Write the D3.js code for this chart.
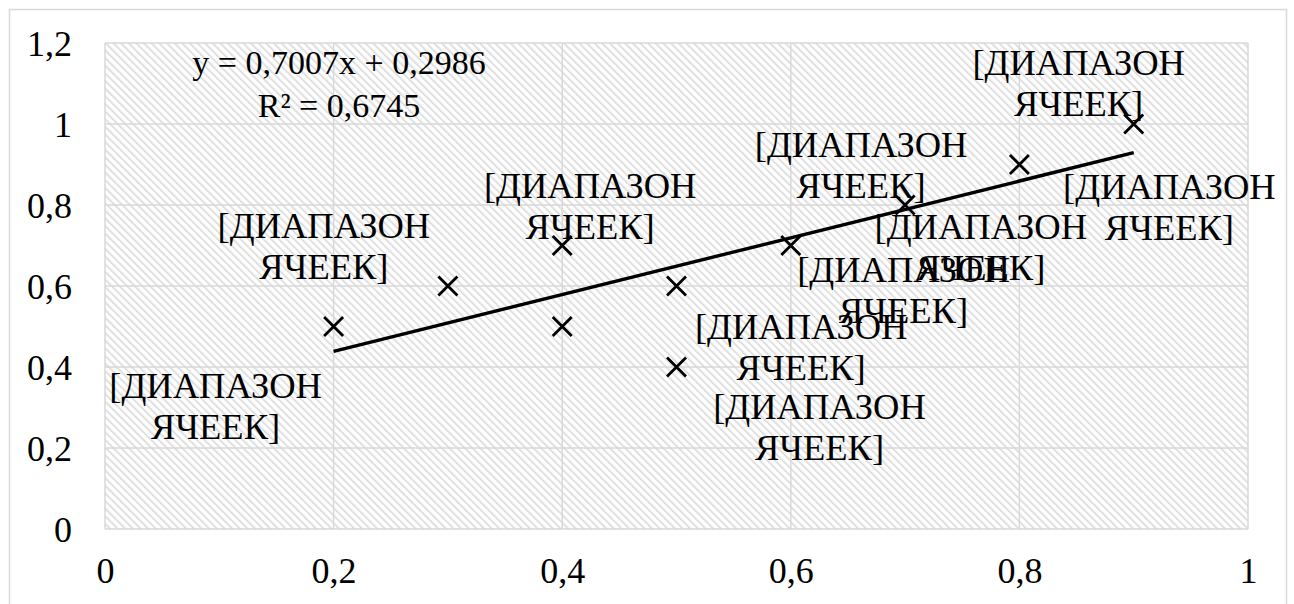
<!DOCTYPE html>
<html>
<head>
<meta charset="utf-8">
<script src="https://cdn.jsdelivr.net/npm/d3@7"></script>
<style>
  html, body { margin: 0; padding: 0; background: #ffffff; }
  svg { display: block; }
  text { font-family: "Liberation Serif", "Times New Roman", serif; fill: #000; }
</style>
</head>
<body>
<svg id="chart" width="1294" height="604"></svg>
<script>
// Observations
const xValues = [0.2, 0.3, 0.4, 0.4, 0.5, 0.5, 0.6, 0.7, 0.8, 0.9];
const yValues = [0.5, 0.6, 0.7, 0.5, 0.6, 0.4, 0.7, 0.8, 0.9, 1.0];
const pointLabels = xValues.map(() => ["[ДИАПАЗОН", "ЯЧЕЕК]"]);

// Axis ticks
const xTicks = [0, 0.2, 0.4, 0.6, 0.8, 1];
const yTicks = [0, 0.2, 0.4, 0.6, 0.8, 1, 1.2];

// Where each data label sits relative to its marker (px: centre x, first baseline)
const labelOffsets = [
  [-118, 71], [-124, -48], [28, -48], [239, 12], [227, -4],
  [143, 52], [190, -7], [-44, -48], [150, 34], [-55, -49]
];

const plot = { left: 105, right: 1248, top: 43, bottom: 529 };
const tickFont = 36;
const labelFont = 36.5;
const eqFont = 34;
const grid = "#d9d9d9";

const svg = d3.select("#chart");

// Hatched fill for the plot area
const defs = svg.append("defs");
const pat = defs.append("pattern")
  .attr("id", "hatch")
  .attr("patternUnits", "userSpaceOnUse")
  .attr("width", 5.4).attr("height", 10)
  .attr("patternTransform", "rotate(-45)");
pat.append("rect").attr("width", 5.4).attr("height", 10).attr("fill", "#ffffff");
pat.append("rect").attr("width", 2).attr("height", 10).attr("fill", "#e0e0e0");

// Chart frame
svg.append("rect")
  .attr("x", 9.5).attr("y", 9.5).attr("width", 1277).attr("height", 620)
  .attr("fill", "#ffffff").attr("stroke", grid).attr("stroke-width", 1.5);

const x = d3.scaleLinear().domain([0, 1]).range([plot.left, plot.right]);
const y = d3.scaleLinear().domain([0, 1.2]).range([plot.bottom, plot.top]);

svg.append("rect")
  .attr("x", plot.left).attr("y", plot.top)
  .attr("width", plot.right - plot.left).attr("height", plot.bottom - plot.top)
  .attr("fill", "url(#hatch)");

const fmt = v => String(v).replace(".", ",");

// Gridlines
svg.append("g").selectAll("line").data(xTicks).join("line")
  .attr("x1", d => x(d)).attr("x2", d => x(d))
  .attr("y1", plot.top).attr("y2", plot.bottom)
  .attr("stroke", grid).attr("stroke-width", 1.5);
svg.append("g").selectAll("line").data(yTicks).join("line")
  .attr("x1", plot.left).attr("x2", plot.right)
  .attr("y1", d => y(d)).attr("y2", d => y(d))
  .attr("stroke", grid).attr("stroke-width", 1.5);

// Axes (labels only)
const xAxis = svg.append("g")
  .attr("transform", `translate(0,${plot.bottom})`)
  .call(d3.axisBottom(x).tickValues(xTicks).tickFormat(fmt).tickSize(0).tickPadding(42));
const yAxis = svg.append("g")
  .attr("transform", `translate(${plot.left},0)`)
  .call(d3.axisLeft(y).tickValues(yTicks).tickFormat(fmt).tickSize(0).tickPadding(33));
[xAxis, yAxis].forEach(g => {
  g.select(".domain").remove();
  g.attr("font-family", null).attr("font-size", null);
  g.selectAll("text")
    .attr("font-size", tickFont).attr("fill", "#000");
});
yAxis.selectAll("text").attr("dy", "0.34em");
xAxis.selectAll("text").attr("dy", "0.34em");

// Linear trend (least squares)
const n = xValues.length;
const mx = d3.mean(xValues), my = d3.mean(yValues);
let sxy = 0, sxx = 0, syy = 0;
for (let i = 0; i < n; i++) {
  sxy += (xValues[i] - mx) * (yValues[i] - my);
  sxx += (xValues[i] - mx) ** 2;
  syy += (yValues[i] - my) ** 2;
}
const slope = sxy / sxx;
const intercept = my - slope * mx;
const r2 = (sxy * sxy) / (sxx * syy);
const [x0, x1] = d3.extent(xValues);

svg.append("line")
  .attr("x1", x(x0)).attr("y1", y(intercept + slope * x0))
  .attr("x2", x(x1)).attr("y2", y(intercept + slope * x1))
  .attr("stroke", "#000").attr("stroke-width", 3.4);

// Markers
const m = 9.5;
const pts = xValues.map((v, i) => ({ x: v, y: yValues[i], i }));
svg.append("g").selectAll("path").data(pts).join("path")
  .attr("d", d => {
    const cx = x(d.x), cy = y(d.y);
    return `M${cx - m},${cy - m}L${cx + m},${cy + m}M${cx - m},${cy + m}L${cx + m},${cy - m}`;
  })
  .attr("stroke", "#000").attr("stroke-width", 2.8).attr("fill", "none");

// Data labels
const lineGap = 41;
const lbl = svg.append("g").selectAll("text").data(pts).join("text")
  .attr("text-anchor", "middle")
  .attr("font-size", labelFont)
  .attr("x", d => x(d.x) + labelOffsets[d.i][0])
  .attr("y", d => y(d.y) + labelOffsets[d.i][1]);
lbl.selectAll("tspan").data(d => pointLabels[d.i].map(t => ({ t, d }))).join("tspan")
  .attr("x", o => x(o.d.x) + labelOffsets[o.d.i][0])
  .attr("dy", (o, k) => k === 0 ? 0 : lineGap)
  .text(o => o.t);

// Trend equation
const f4 = v => v.toFixed(4).replace(".", ",");
const eq = svg.append("text").attr("text-anchor", "middle").attr("font-size", eqFont);
eq.append("tspan").attr("x", 339).attr("y", 74)
  .text(`y = ${f4(slope)}x + ${f4(intercept)}`);
eq.append("tspan").attr("x", 339).attr("y", 117)
  .text(`R² = ${f4(r2)}`);
</script>
</body>
</html>
